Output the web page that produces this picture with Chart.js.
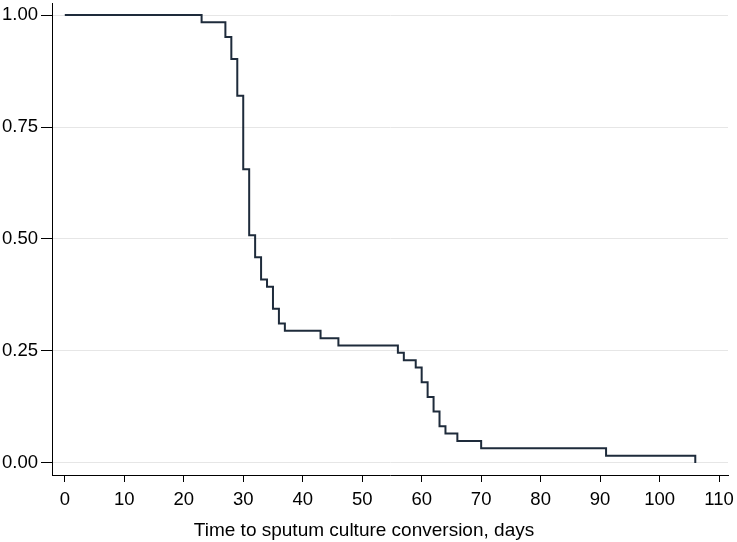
<!DOCTYPE html>
<html>
<head>
<meta charset="utf-8">
<script src="https://cdn.jsdelivr.net/npm/chart.js@4/dist/chart.umd.min.js"></script>
<style>
    html, body { margin: 0; padding: 0; background: #ffffff; }
    #wrap { width: 737px; height: 542px; }
</style>
</head>
<body>
<div id="wrap"><canvas id="km" width="737" height="542"></canvas></div>
<script>
// Kaplan-Meier estimate, time in days and survival at each step
const times = [0, 23, 27, 28, 29, 30, 31, 32, 33, 34, 35, 36, 37, 43, 46, 56, 57, 59, 60, 61, 62, 63, 64, 66, 70, 91, 106];
const survival = [1, 0.9836, 0.9508, 0.9016, 0.8197, 0.6557, 0.5082, 0.4590, 0.4098, 0.3934, 0.3443, 0.3115, 0.2951,
    0.2787, 0.2623, 0.2459, 0.2295, 0.2131, 0.1803, 0.1475, 0.1148, 0.0820, 0.0656, 0.0492, 0.0328, 0.0164, 0];
const xTicks = [0, 10, 20, 30, 40, 50, 60, 70, 80, 90, 100, 110];
const yTicks = [0, 0.25, 0.5, 0.75, 1];
const xTitle = "Time to sputum culture conversion, days";

const font = "'Liberation Sans', Arial, sans-serif";

const points = times.map((t, i) => ({ x: t, y: survival[i] }));

// chart.js pads the axes for the outer labels, we place the plot area ourselves
function noPadding(scale) {
    scale.paddingTop = 0;
    scale.paddingBottom = 0;
    scale.paddingLeft = 0;
    scale.paddingRight = 0;
}

new Chart(document.getElementById("km").getContext("2d"), {
    type: "line",
    data: {
        datasets: [{
            data: points,
            stepped: "before",
            borderColor: "#1e2b3b",
            borderWidth: 2,
            pointRadius: 0,
            fill: false
        }]
    },
    options: {
        responsive: false,
        animation: false,
        layout: { padding: { top: 3, right: 9, left: 0, bottom: 0 } },
        plugins: {
            legend: { display: false },
            tooltip: { enabled: false },
            title: {
                display: true,
                position: "bottom",
                text: xTitle,
                color: "#000",
                font: { family: font, size: 19, weight: "normal" },
                padding: { top: 0, bottom: 0 }
            }
        },
        scales: {
            x: {
                type: "linear",
                min: -2.15,
                max: 111.5,
                afterBuildTicks: scale => { scale.ticks = xTicks.map(v => ({ value: v })); },
                afterFit: scale => { scale.height = 44.2; noPadding(scale); },
                grid: { drawOnChartArea: false, drawTicks: true, tickLength: 7, tickColor: "#000" },
                border: { display: true, color: "#000", width: 1 },
                ticks: {
                    color: "#000",
                    padding: 7,
                    maxRotation: 0,
                    font: { family: font, size: 18.5 }
                }
            },
            y: {
                type: "linear",
                min: -0.0268,
                max: 1.0268,
                afterBuildTicks: scale => { scale.ticks = yTicks.map(v => ({ value: v })); },
                afterFit: scale => { scale.width = 52; noPadding(scale); },
                grid: { color: "#e6e6e6", lineWidth: 1, tickLength: 11, tickColor: "#000" },
                border: { display: true, color: "#000", width: 1 },
                ticks: {
                    color: "#000",
                    padding: 3,
                    font: { family: font, size: 18.5 },
                    callback: v => v.toFixed(2)
                }
            }
        }
    }
});
</script>
</body>
</html>
